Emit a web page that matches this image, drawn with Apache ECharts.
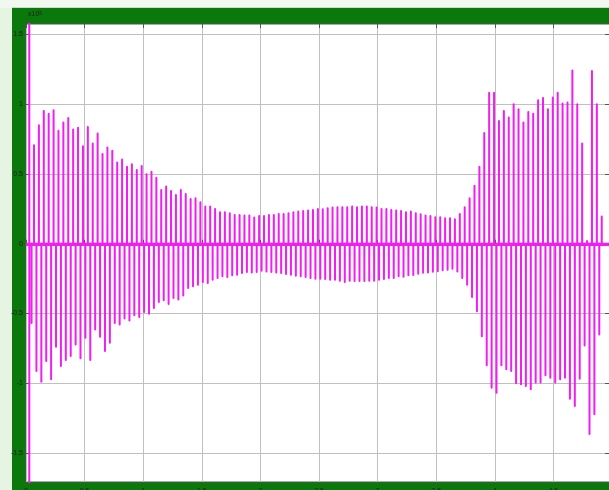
<!DOCTYPE html>
<html>
<head>
<meta charset="utf-8">
<script src="https://cdn.jsdelivr.net/npm/echarts@6/dist/echarts.min.js"></script>
<style>
  html, body { margin: 0; padding: 0; background: #fff; }
  #chart { width: 609px; height: 490px; }
</style>
</head>
<body>
<div id="chart"></div>
<script>
// Scope trace: alternating positive / negative pulses around zero.
// Positive pulse peaks, in order of time.
const posPeaks = [
  0.707, 0.85, 0.952, 0.933, 0.957, 0.81, 0.869, 0.902, 0.819, 0.831,
  0.70, 0.838, 0.719, 0.79, 0.643, 0.69, 0.667, 0.583, 0.605, 0.552,
  0.571, 0.529, 0.557, 0.498, 0.517, 0.474, 0.386, 0.41, 0.379,
  0.35, 0.386, 0.357, 0.321, 0.326, 0.298, 0.267, 0.267, 0.25, 0.226,
  0.226, 0.219, 0.207, 0.207, 0.202, 0.202, 0.188, 0.2, 0.2, 0.207,
  0.207, 0.214, 0.214, 0.219, 0.226, 0.231, 0.236, 0.238, 0.243, 0.25,
  0.248, 0.255, 0.26, 0.262, 0.262, 0.262, 0.267, 0.262, 0.267, 0.267,
  0.262, 0.26, 0.25, 0.25, 0.243, 0.238, 0.236, 0.226, 0.231, 0.219,
  0.212, 0.202, 0.2, 0.19, 0.19, 0.183, 0.183, 0.176, 0.214, 0.262,
  0.326, 0.417, 0.552, 0.795, 1.083, 1.083, 0.881, 0.952, 0.905, 1.0,
  0.964, 0.869, 0.945, 0.933, 1.029, 1.045, 0.964, 1.048, 1.083, 1.005,
  1.012, 1.243, 1.0, 0.719, 0.02, 1.238, 1.0, 0.195
];
// Negative pulse peaks, each half a period before the matching positive one.
const negPeaks = [
  -0.567, -0.912, -0.988, -0.84, -0.971, -0.738, -0.876, -0.833, -0.805, -0.721,
  -0.821, -0.674, -0.833, -0.614, -0.667, -0.769, -0.709, -0.567, -0.579, -0.536,
  -0.55, -0.512, -0.524, -0.488, -0.502, -0.46, -0.417, -0.405, -0.431, -0.388,
  -0.4, -0.371, -0.317, -0.305, -0.293, -0.274, -0.281, -0.257, -0.245, -0.233,
  -0.238, -0.226, -0.221, -0.21, -0.202, -0.205, -0.202, -0.193, -0.198, -0.202,
  -0.205, -0.21, -0.217, -0.221, -0.229, -0.233, -0.238, -0.245, -0.25,
  -0.25, -0.252, -0.257, -0.257, -0.264, -0.274, -0.264, -0.267, -0.267, -0.267,
  -0.264, -0.264, -0.257, -0.252, -0.245, -0.245, -0.233,
  -0.237, -0.225, -0.223, -0.215, -0.208, -0.206, -0.2, -0.197, -0.19, -0.186, -0.178,
  -0.198, -0.245, -0.293, -0.381, -0.483, -0.662, -0.871, -1.031, -1.067, -0.871,
  -0.9, -0.912, -1.0, -1.007, -1.019, -1.043, -0.995, -0.995, -0.943, -0.96,
  -0.995, -0.971, -0.96, -1.11, -1.162, -0.967, -0.729, -1.364, -1.221, -0.65
];
// Switch-on transient: swings far past both axis limits.
const startTransient = [3, -3];

// Time base
const T_START = 0, T_END = 5, T_STEP = 0.5;
const TRANSIENT_T = 0.028;
const FIRST_PULSE_T = 0.0474;
const PULSE_PERIOD = 0.04176;
const EDGE = 0.0003;

// Visible vertical limits of the scope window and its grid scale
const Y_VIEW_MIN = -1.7075, Y_VIEW_MAX = 1.5756;
const Y_GRID_MIN = -2, Y_GRID_MAX = 2, Y_GRID_STEP = 0.5;

// Assemble pulses in time order, then the drawn trace (zero between pulses)
const pulses = [];
startTransient.forEach(v => pulses.push([TRANSIENT_T, v]));
for (let j = 0; j < negPeaks.length; j++) {
  pulses.push([FIRST_PULSE_T + j * PULSE_PERIOD, negPeaks[j]]);
  if (j < posPeaks.length) {
    pulses.push([FIRST_PULSE_T + PULSE_PERIOD / 2 + j * PULSE_PERIOD, posPeaks[j]]);
  }
}
const trace = [[T_START, 0]];
pulses.forEach(([t, v]) => {
  trace.push([t - EDGE, 0], [t, v], [t + EDGE, 0]);
});
trace.push([T_END, 0]);

const GREEN = '#0a780a';
const GRIDLINE = '#c0c0c0';
const TICK = '#555';
const TRACE = '#f01ef0';

const chart = echarts.init(document.getElementById('chart'), null, { renderer: 'canvas' });
chart.setOption({
  animation: false,
  backgroundColor: GREEN,
  graphic: [
    { type: 'rect', left: 0, top: 0, shape: { width: 12, height: 490 }, style: { fill: '#e6f5e1' }, silent: true },
    { type: 'rect', left: 0, top: 0, shape: { width: 609, height: 8 }, style: { fill: '#f1f8ef' }, silent: true },
    { type: 'rect', left: 12, top: 7, shape: { width: 597, height: 1 }, style: { fill: '#cfd8cf' }, silent: true },
    {
      type: 'text', left: 28, top: 11, silent: true,
      style: {
        text: 'x10{sup|5}', fill: '#222', font: '7px "Liberation Sans", Arial, sans-serif',
        rich: { sup: { fontSize: 5, verticalAlign: 'top', fill: '#222' } }
      }
    }
  ],
  grid: [
    { // scope window holding the trace
      left: 26, top: 24, width: 586, height: 458,
      show: true, backgroundColor: '#ffffff', borderColor: '#555', borderWidth: 1,
      outerBoundsMode: 'none', containLabel: false
    },
    { // amplitude grid with regular 0.5 steps, extends past the window edges
      left: 26, top: -35.2, width: 586, height: 558,
      show: false, outerBoundsMode: 'none', containLabel: false
    }
  ],
  xAxis: [
    {
      gridIndex: 0, type: 'value', min: T_START, max: T_END, interval: T_STEP, position: 'bottom',
      axisLine: { show: false },
      axisTick: { show: true, inside: true, length: 4, lineStyle: { color: TICK } },
      axisLabel: { show: true, fontSize: 7, color: '#222', margin: 6, fontFamily: 'Liberation Sans' },
      splitLine: { show: true, lineStyle: { color: GRIDLINE, width: 1 } }
    },
    {
      gridIndex: 0, type: 'value', min: T_START, max: T_END, interval: T_STEP, position: 'top',
      axisLine: { show: false },
      axisTick: { show: true, inside: true, length: 4, lineStyle: { color: TICK } },
      axisLabel: { show: false }, splitLine: { show: false }
    },
    { gridIndex: 1, type: 'value', min: T_START, max: T_END, show: false }
  ],
  yAxis: [
    { gridIndex: 0, type: 'value', min: Y_VIEW_MIN, max: Y_VIEW_MAX, show: false },
    {
      gridIndex: 1, type: 'value', min: Y_GRID_MIN, max: Y_GRID_MAX, interval: Y_GRID_STEP, position: 'left',
      axisLine: { show: false },
      axisTick: { show: true, inside: true, length: 4, lineStyle: { color: TICK } },
      axisLabel: { show: true, fontSize: 7, color: '#222', margin: 3, fontFamily: 'Liberation Sans' },
      splitLine: { show: true, lineStyle: { color: GRIDLINE, width: 1 } }
    },
    {
      gridIndex: 1, type: 'value', min: Y_GRID_MIN, max: Y_GRID_MAX, interval: Y_GRID_STEP, position: 'right',
      axisLine: { show: false },
      axisTick: { show: true, inside: true, length: 7, lineStyle: { color: TICK } },
      axisLabel: { show: false }, splitLine: { show: false }
    }
  ],
  series: [
    {
      type: 'line', xAxisIndex: 0, yAxisIndex: 0,
      data: trace, showSymbol: false, symbol: 'none', clip: true,
      lineStyle: { color: TRACE, width: 2, join: 'round' },
      // the trace rests on zero between pulses; its baseline reads heavier
      markLine: {
        silent: true, symbol: 'none', label: { show: false },
        lineStyle: { color: TRACE, width: 3, type: 'solid' },
        data: [{ yAxis: 0 }]
      },
      z: 5
    }
  ]
});
</script>
</body>
</html>
